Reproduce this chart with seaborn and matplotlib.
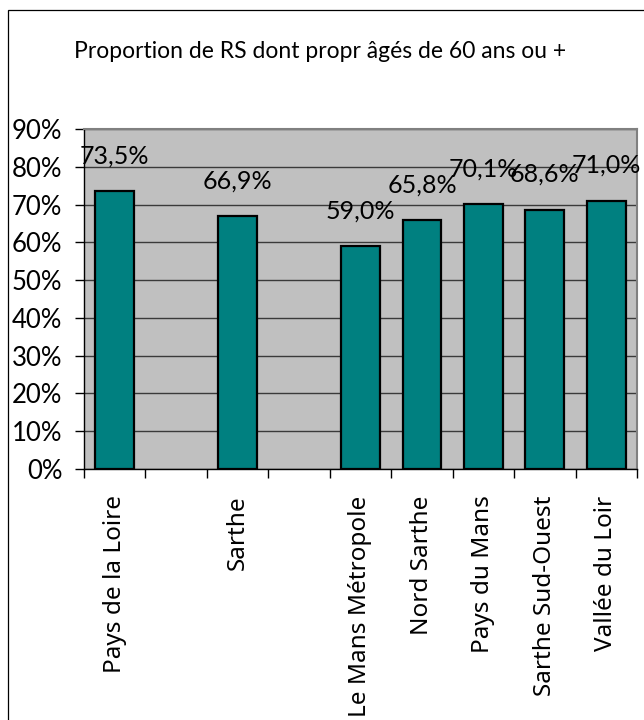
import matplotlib
matplotlib.use("Agg")
import matplotlib.pyplot as plt
import seaborn as sns
import pandas as pd
from matplotlib.patches import Rectangle
from matplotlib.ticker import FixedLocator, FuncFormatter

# Data: share of secondary homes whose owners are aged 60 or over (%)
territoires = ["Pays de la Loire", "Sarthe", "Le Mans Métropole", "Nord Sarthe",
               "Pays du Mans", "Sarthe Sud-Ouest", "Vallée du Loir"]
proportions = [73.5, 66.9, 59.0, 65.8, 70.1, 68.6, 71.0]
# Category order, with empty slots separating region / department / territories
ordre = ["Pays de la Loire", " ", "Sarthe", "  ", "Le Mans Métropole", "Nord Sarthe",
         "Pays du Mans", "Sarthe Sud-Ouest", "Vallée du Loir"]
y_ticks = [0, 10, 20, 30, 40, 50, 60, 70, 80, 90]
titre = "Proportion de RS dont propr âgés de 60 ans ou +"

df = pd.DataFrame({"territoire": territoires, "proportion": proportions})

W, H = 644, 720
fig = plt.figure(figsize=(W / 100, H / 100), dpi=100)
fig.patch.set_facecolor("white")
ax = fig.add_axes([84 / W, 1 - 469 / H, (637 - 84) / W, (469 - 129) / H])
ax.set_facecolor("#C0C0C0")

sns.barplot(data=df, x="territoire", y="proportion", order=ordre, ax=ax,
            color="#008080", saturation=1, width=0.63,
            edgecolor="black", linewidth=1.6, errorbar=None, zorder=3)

ax.set_xlim(-0.5, len(ordre) - 0.5)
ax.set_ylim(0, 90)
ax.yaxis.set_major_locator(FixedLocator(y_ticks))
ax.yaxis.set_major_formatter(FuncFormatter(lambda v, p: f"{int(round(v))}%"))
ax.grid(axis="y", color="#3a3a3a", linewidth=1.0, zorder=1)
ax.set_axisbelow(True)
ax.set_xlabel("")
ax.set_ylabel("")

lbl_font = "Lato"
for t in ax.get_yticklabels():
    t.set_fontfamily(lbl_font)
    t.set_fontsize(18.5)
ax.tick_params(axis="y", length=6.5, width=1.0, color="black", pad=9)

# Category labels centred, tick marks between categories
ax.tick_params(axis="x", which="major", length=0, pad=19)
ax.xaxis.set_minor_locator(FixedLocator([i - 0.5 for i in range(len(ordre) + 1)]))
ax.tick_params(axis="x", which="minor", length=6.5, width=1.0, color="black")
ax.set_xticks(range(len(ordre)))
ax.set_xticklabels(ordre, rotation=90, fontsize=17.5, fontfamily="Noto Sans",
                   ha="center", va="top")

for s in ["top", "right"]:
    ax.spines[s].set_color("#808080")
    ax.spines[s].set_linewidth(1.5)
for s in ["left", "bottom"]:
    ax.spines[s].set_color("black")
    ax.spines[s].set_linewidth(1.0)

# Value labels above each bar
for nom, v in zip(territoires, proportions):
    x = ordre.index(nom)
    ax.annotate(f"{v:.1f}".replace(".", ",") + "%", (x, v), xytext=(0, 20),
                textcoords="offset points", ha="center", va="baseline",
                fontsize=18, fontfamily=lbl_font, zorder=5)

fig.text(320 / W, 1 - 52 / H, titre, ha="center", va="center",
         fontsize=16.5, fontfamily=lbl_font)

fig.add_artist(Rectangle((8 / W, -0.1), 1.2, 1.1 - 10 / H,
                         transform=fig.transFigure, fill=False,
                         edgecolor="black", linewidth=0.9))

fig.savefig("out.png", dpi=100)
